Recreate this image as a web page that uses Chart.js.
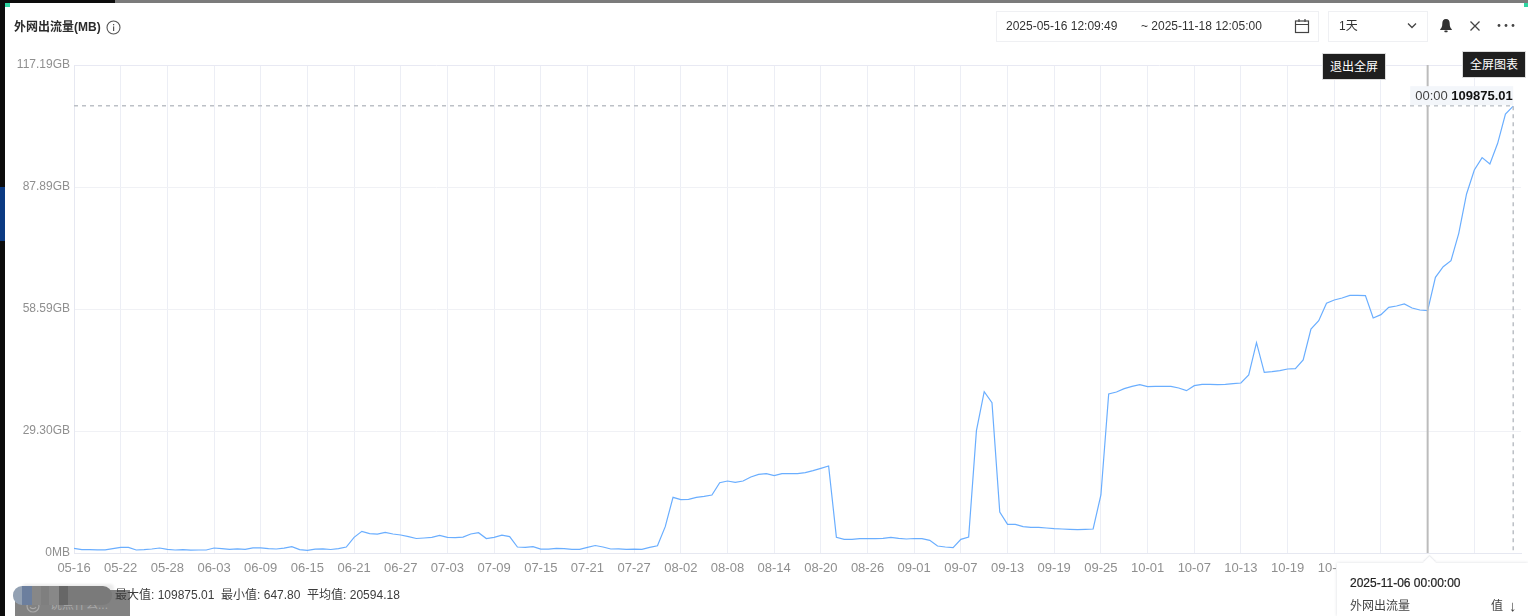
<!DOCTYPE html>
<html>
<head>
<meta charset="utf-8">
<script src="https://cdn.jsdelivr.net/npm/chart.js@4/dist/chart.umd.min.js"></script>
<style>
html, body { margin: 0; padding: 0; background: #fff; }
body { width: 1528px; height: 616px; overflow: hidden; position: relative; font-family: "Liberation Sans", "Noto Sans CJK SC", sans-serif; font-size: 12px; color: #333; }
canvas { position: absolute; left: 0; top: 0; }
.abs { position: absolute; white-space: nowrap; }
.box { position: absolute; border: 1px solid #eff0f3; box-sizing: border-box; }
.dark { position: absolute; background: #1f1f1f; color: #fff; font-size: 12px; line-height: 27px; text-align: center; border: 1px solid #dcdcdc; box-sizing: border-box; }
.cell { position: absolute; top: 0; height: 20px; }
</style>
</head>
<body>
<canvas id="traffic" width="1528" height="616"></canvas>

<!-- window edges -->
<div class="abs" style="left:0;top:0;width:115px;height:3px;background:#0c0c0c"></div>
<div class="abs" style="left:115px;top:0;width:1413px;height:3px;background:#7b7b7b"></div>
<div class="abs" style="left:0;top:0;width:5px;height:616px;background:#0c0c0c"></div>
<div class="abs" style="left:0;top:187px;width:5px;height:54px;background:#0b3a82"></div>
<div class="abs" style="left:5px;top:3px;width:5px;height:4px;background:#2fd5a2"></div>
<div class="abs" style="left:1524px;top:3px;width:4px;height:4px;background:#2fd5a2"></div>

<!-- header -->
<div class="abs" style="left:14px;top:19px;font-weight:bold;color:#2b2b2b;line-height:16px">外网出流量(MB)</div>
<svg class="abs" style="left:106px;top:20px" width="15" height="15" viewBox="0 0 15 15"><circle cx="7.5" cy="7.5" r="6.5" fill="none" stroke="#555" stroke-width="1.1"/><rect x="7" y="6.4" width="1.2" height="4.6" fill="#555"/><rect x="7" y="4" width="1.2" height="1.3" fill="#555"/></svg>

<div class="box" style="left:996px;top:11px;width:323px;height:31px"></div>
<div class="abs" style="left:1006px;top:19px;line-height:14px">2025-05-16 12:09:49</div>
<div class="abs" style="left:1141px;top:19px;line-height:14px">~ 2025-11-18 12:05:00</div>
<svg class="abs" style="left:1294px;top:18px" width="16" height="16" viewBox="0 0 16 16"><rect x="1.5" y="3" width="13" height="11.5" fill="none" stroke="#444" stroke-width="1.2"/><path d="M1.5 6.5H14.5M5 1V4M11 1V4" stroke="#444" stroke-width="1.2" fill="none"/></svg>
<div class="box" style="left:1328px;top:11px;width:100px;height:31px"></div>
<div class="abs" style="left:1339px;top:19px;line-height:14px">1天</div>
<svg class="abs" style="left:1406px;top:22px" width="12" height="8" viewBox="0 0 12 8"><path d="M2 1.5L6 5.5L10 1.5" fill="none" stroke="#444" stroke-width="1.3"/></svg>
<svg class="abs" style="left:1439px;top:18px" width="14" height="15" viewBox="0 0 14 15"><path d="M7 1C4.4 1 3.3 3 3.3 5.5C3.3 8.5 2.6 9.8 1.2 11.3V12H12.8V11.3C11.4 9.8 10.7 8.5 10.7 5.5C10.7 3 9.6 1 7 1Z" fill="#333"/><rect x="5.3" y="12.6" width="3.4" height="1.6" rx="0.8" fill="#333"/></svg>
<svg class="abs" style="left:1469px;top:20px" width="12" height="12" viewBox="0 0 12 12"><path d="M1.5 1.5L10.5 10.5M10.5 1.5L1.5 10.5" stroke="#444" stroke-width="1.3"/></svg>
<svg class="abs" style="left:1496px;top:23px" width="20" height="5" viewBox="0 0 20 5"><circle cx="3" cy="2.5" r="1.4" fill="#444"/><circle cx="10" cy="2.5" r="1.4" fill="#444"/><circle cx="17" cy="2.5" r="1.4" fill="#444"/></svg>

<div class="dark" style="left:1322px;top:53px;width:64px;height:27px">退出全屏</div>
<div class="dark" style="left:1462px;top:51px;width:64px;height:27px">全屏图表</div>

<!-- comment box with the mosaic on top -->
<div class="abs" style="left:22px;top:584px;width:92px;height:8px;background:#ececec;border-radius:4px;filter:blur(1px)"></div>
<div class="abs" style="left:15px;top:590px;width:115px;height:26px;background:#828282"></div>
<svg class="abs" style="left:26px;top:599px" width="14" height="14" viewBox="0 0 14 14"><circle cx="7" cy="7" r="6" fill="none" stroke="#a9a9a9" stroke-width="1.2"/><path d="M4 8C5 10.2 9 10.2 10 8" fill="none" stroke="#a9a9a9" stroke-width="1.1"/></svg>
<div class="abs" style="left:50px;top:598px;line-height:14px;color:#a9a9a9">说点什么...</div>
<div class="abs" style="left:13px;top:586px;width:99px;height:19px;overflow:hidden;border-radius:9px;filter:blur(.7px)">
  <div class="cell" style="left:0;width:9px;background:#93a1b3"></div>
  <div class="cell" style="left:9px;width:10px;background:#6c7f9e"></div>
  <div class="cell" style="left:19px;width:9px;background:#878787"></div>
  <div class="cell" style="left:28px;width:8px;background:#7f7f7f"></div>
  <div class="cell" style="left:36px;width:10px;background:#888"></div>
  <div class="cell" style="left:46px;width:9px;background:#676767"></div>
  <div class="cell" style="left:55px;width:44px;background:#7a7a7a"></div>
</div>

<!-- footer -->
<div class="abs" style="left:115px;top:588px;line-height:14px;color:#3c3c3c">最大值: 109875.01&nbsp; 最小值: 647.80&nbsp; 平均值: 20594.18</div>

<!-- hover panel -->
<div class="abs" style="left:1337px;top:563px;width:191px;height:53px;background:#fff;box-shadow:0 0 3px rgba(90,100,120,.22)"></div>
<div class="abs" style="left:1425px;top:558px;width:9px;height:9px;background:#fff;transform:rotate(45deg);box-shadow:-1px -1px 1px rgba(90,100,120,.12)"></div>
<div class="abs" style="left:1350px;top:576px;line-height:14px;color:#222;-webkit-text-stroke:.2px #222">2025-11-06 00:00:00</div>
<div class="abs" style="left:1350px;top:599px;line-height:14px;color:#444">外网出流量</div>
<div class="abs" style="left:1491px;top:599px;line-height:14px;color:#444">值</div>
<div class="abs" style="left:1509px;top:599px;line-height:14px;font-size:15px;color:#444">↓</div>

<script>
// days on the axis, the range runs on to 11-18 but the last day has no sample yet
var categories = [
  "05-16","05-17","05-18","05-19","05-20","05-21","05-22","05-23","05-24","05-25","05-26","05-27","05-28","05-29","05-30","05-31",
  "06-01","06-02","06-03","06-04","06-05","06-06","06-07","06-08","06-09","06-10","06-11","06-12","06-13","06-14","06-15","06-16","06-17","06-18","06-19","06-20","06-21","06-22","06-23","06-24","06-25","06-26","06-27","06-28","06-29","06-30",
  "07-01","07-02","07-03","07-04","07-05","07-06","07-07","07-08","07-09","07-10","07-11","07-12","07-13","07-14","07-15","07-16","07-17","07-18","07-19","07-20","07-21","07-22","07-23","07-24","07-25","07-26","07-27","07-28","07-29","07-30","07-31",
  "08-01","08-02","08-03","08-04","08-05","08-06","08-07","08-08","08-09","08-10","08-11","08-12","08-13","08-14","08-15","08-16","08-17","08-18","08-19","08-20","08-21","08-22","08-23","08-24","08-25","08-26","08-27","08-28","08-29","08-30","08-31",
  "09-01","09-02","09-03","09-04","09-05","09-06","09-07","09-08","09-09","09-10","09-11","09-12","09-13","09-14","09-15","09-16","09-17","09-18","09-19","09-20","09-21","09-22","09-23","09-24","09-25","09-26","09-27","09-28","09-29","09-30",
  "10-01","10-02","10-03","10-04","10-05","10-06","10-07","10-08","10-09","10-10","10-11","10-12","10-13","10-14","10-15","10-16","10-17","10-18","10-19","10-20","10-21","10-22","10-23","10-24","10-25","10-26","10-27","10-28","10-29","10-30","10-31",
  "11-01","11-02","11-03","11-04","11-05","11-06","11-07","11-08","11-09","11-10","11-11","11-12","11-13","11-14","11-15","11-16","11-17","11-18"
];

// outbound traffic in MB, one sample per day
var traffic = [
  1148,820,820,779,779,1066,1393,1393,738,820,984,1230,902,738,820,700,
  738,738,1230,1066,902,1025,902,1271,1271,1066,984,1189,1557,820,647.8,943,1025,861,1066,1475,3853,5328,4754,4631,5082,4672,4426,4017,3566,3689,
  3853,4344,3853,3771,3894,4672,5000,3566,3853,4385,4017,1475,1393,1557,943,943,1148,1066,902,902,1393,1844,1475,984,1025,902,943,902,1393,1762,6476,
  13689,13115,13197,13689,13935,14263,17296,17706,17378,17706,18689,19345,19509,19017,19509,19509,19509,19755,20247,20820,21394,3853,3361,3361,3525,3525,3525,3607,3853,3607,3443,
  3566,3525,3115,1721,1475,1311,3361,3935,30083,39673,36968,10082,7049,7049,6476,6312,6312,6148,5984,5902,5820,5738,5820,5902,14263,39100,39592,40411,40985,41395,
  40903,40985,40985,40985,40575,39919,41149,41477,41477,41395,41477,41641,41805,43772,51723,44428,44592,44838,45247,45329,47461,55084,57133,61396,62215,62707,63363,63363,63281,57789,58609,
  60412,60740,61232,60248,59756,59592,67789,70412,71888,78609,88282,94184,97216,95659,100741,107954,109875.01,null
];

var yTickValues = [0, 30000, 60000, 90000, 120000];
var yTickLabels = ["0MB", "29.30GB", "58.59GB", "87.89GB", "117.19GB"];
var labelEvery = 6;

var maxDay = "11-17";
var maxValue = 109875.01;
var hoverDay = "11-06";
var flagTime = "00:00";
var flagValue = "109875.01";

// dashed max lines, the hover cursor and the value flag
var markers = {
  id: 'markers',
  afterDatasetsDraw: function(chart) {
    var c = chart.ctx, x = chart.scales.x, y = chart.scales.y, area = chart.chartArea;
    var maxX = x.getPixelForValue(categories.indexOf(maxDay));
    var maxY = y.getPixelForValue(maxValue);
    var hoverX = x.getPixelForValue(categories.indexOf(hoverDay));
    c.save();
    c.strokeStyle = '#bcc0c6';
    c.lineWidth = 1.5;
    c.setLineDash([4, 4]);
    c.beginPath();
    c.moveTo(area.left, maxY - .5);
    c.lineTo(maxX, maxY - .5);
    c.moveTo(maxX, maxY);
    c.lineTo(maxX, area.bottom);
    c.stroke();
    c.setLineDash([]);
    c.strokeStyle = '#bcbcbc';
    c.lineWidth = 2;
    c.beginPath();
    c.moveTo(hoverX, area.top);
    c.lineTo(hoverX, area.bottom);
    c.stroke();

    c.fillStyle = '#f3f6fa';
    c.fillRect(maxX - 103, maxY - 20, 103, 19);
    c.textBaseline = 'middle';
    c.textAlign = 'left';
    c.font = '13px "Liberation Sans"';
    c.fillStyle = '#444';
    c.fillText(flagTime, maxX - 98, maxY - 10);
    var w = c.measureText(flagTime + ' ').width;
    c.font = 'bold 13px "Liberation Sans"';
    c.fillStyle = '#111';
    c.fillText(flagValue, maxX - 98 + w, maxY - 10);
    c.restore();
  }
};

var ctx = document.getElementById('traffic').getContext('2d');
var chart = new Chart(ctx, {
  type: 'line',
  data: {
    labels: categories,
    datasets: [{
      label: '外网出流量',
      data: traffic,
      borderColor: '#6aaeff',
      borderWidth: 1.2,
      pointRadius: 0,
      tension: 0,
      fill: false
    }]
  },
  options: {
    responsive: false,
    animation: false,
    events: [],
    layout: { padding: { top: 65, right: 7, left: 0, bottom: 0 } },
    plugins: { legend: { display: false }, tooltip: { enabled: false } },
    scales: {
      x: {
        offset: false,
        afterFit: function(scale) { scale.height = 63; scale.paddingRight = 0; scale.paddingLeft = 0; },
        afterBuildTicks: function(scale) {
          // the last day sits behind the panel and has no grid line
          scale.ticks = scale.ticks.filter(function(t) {
            return t.value % labelEvery === 0 && t.value < categories.length - 1;
          });
        },
        grid: { color: '#eceef5', lineWidth: 1, drawTicks: false },
        border: { color: '#e6e8f1' },
        ticks: { autoSkip: false, maxRotation: 0, padding: 8, color: '#8f8f8f', font: { family: 'Liberation Sans', size: 13 } }
      },
      y: {
        min: 0,
        max: 120000,
        afterFit: function(scale) { scale.width = 74; },
        afterBuildTicks: function(scale) {
          scale.ticks = yTickValues.map(function(v) { return { value: v }; });
        },
        grid: {
          drawTicks: false,
          color: function(c) { return c.tick.value === 120000 ? '#e8e9f3' : '#f0f1f5'; }
        },
        border: { color: '#e6e8f1' },
        ticks: {
          padding: 4,
          color: '#8f8f8f',
          font: { family: 'Liberation Sans', size: 12 },
          callback: function(v) { return yTickLabels[yTickValues.indexOf(v)]; }
        }
      }
    }
  },
  plugins: [markers]
});
</script>
</body>
</html>
